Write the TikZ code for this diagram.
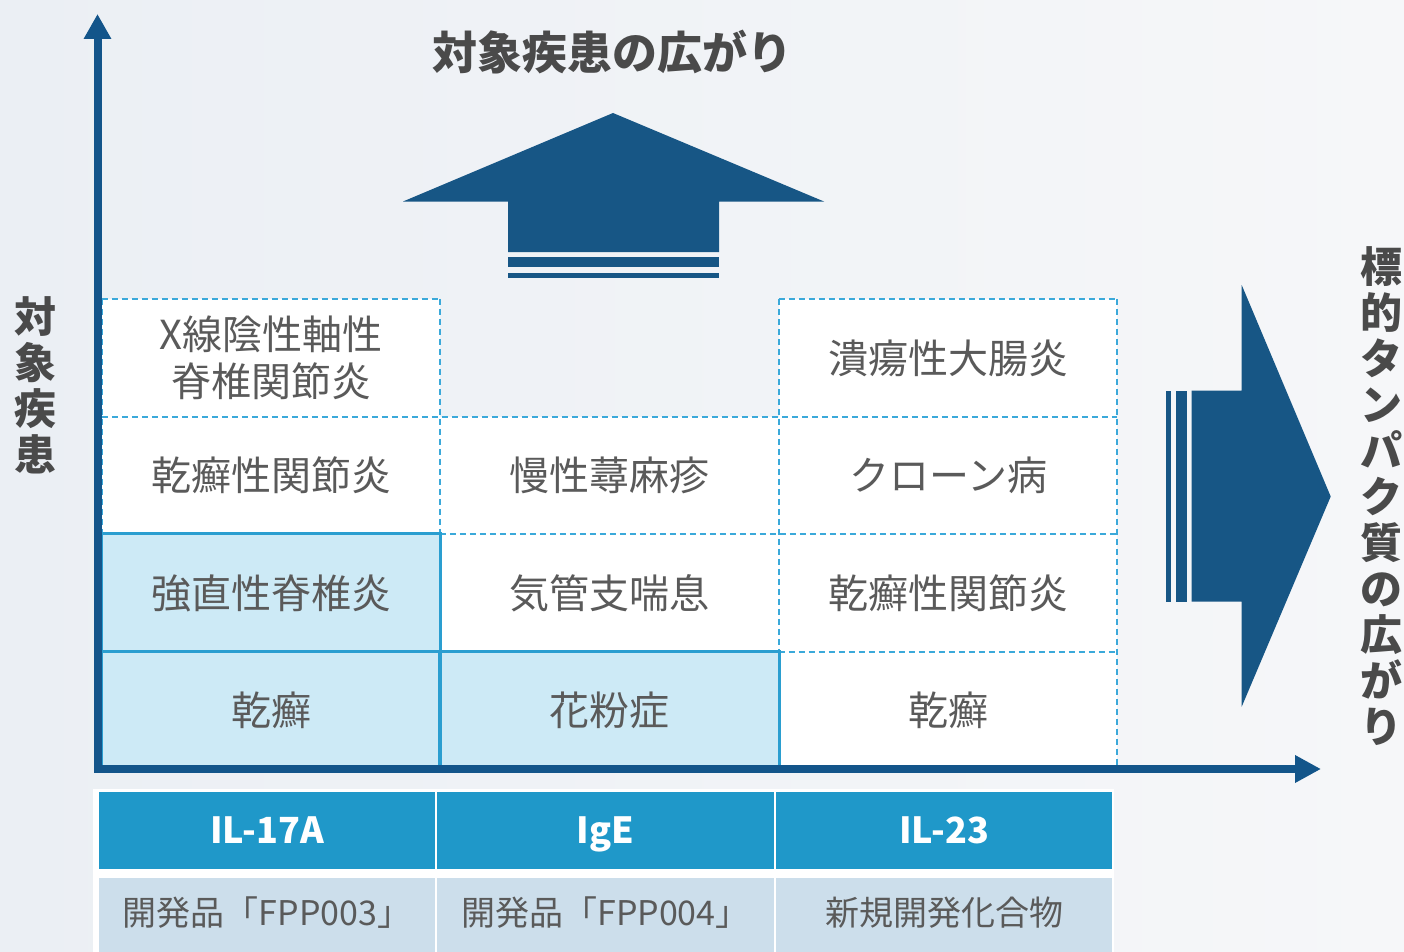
\documentclass[tikz,border=0pt]{standalone}
\usepackage{fontspec}
\setmainfont{Noto Sans CJK JP}
\usetikzlibrary{arrows.meta}
\definecolor{bgL}{HTML}{EBEFF4}
\definecolor{bgR}{HTML}{F6F7F9}
\definecolor{axisblue}{HTML}{13558A}
\definecolor{arrowblue}{HTML}{175685}
\definecolor{headblue}{HTML}{1F98C9}
\definecolor{celllight}{HTML}{CDEAF6}
\definecolor{solidline}{HTML}{2A9ED0}
\definecolor{dashline}{HTML}{3BA9DA}
\definecolor{rowfill}{HTML}{CCDEEB}
\definecolor{txtgray}{HTML}{5A5A5A}
\definecolor{titlegray}{HTML}{4A4A4A}
\begin{document}
\begin{tikzpicture}[x=1pt,y=-1pt,
  cellbox/.style={rectangle, inner sep=0pt, draw=none, text=txtgray,
     font=\fontsize{40}{47}\selectfont, align=center},
  gridline/.style={draw=dashline, line width=1.5pt, dash pattern=on 6pt off 4pt},
  solidbox/.style={draw=solidline, line width=3pt},
  axisline/.style={draw=axisblue, line width=8pt, line join=miter},
  headcell/.style={rectangle, inner sep=0pt, fill=headblue, text=white,
     minimum height=77pt, text height=30pt, text depth=5pt,
     font=\fontsize{36}{40}\selectfont\bfseries},
  subcell/.style={rectangle, inner sep=0pt, fill=rowfill, text=txtgray,
     minimum height=74pt, text height=27pt, text depth=7pt,
     font=\fontsize{34}{40}\selectfont},
  vlabel/.style={inner sep=0pt, align=center, text=titlegray,
     font=\fontsize{42}{46}\selectfont\bfseries},
  bigarrow/.style={fill=arrowblue, draw=none}
]
\useasboundingbox (0,0) rectangle (1404,952);
\shade[left color=bgL, right color=bgR] (0,0) rectangle (1404,952);

% ---- grid cells ----
\node[cellbox, fill=white, minimum width=338pt, minimum height=118pt] (c11) at (271,358) {X線陰性軸性\\脊椎関節炎};
\node[cellbox, fill=white, minimum width=338pt, minimum height=117pt] (c12) at (271,475.5) {乾癬性関節炎};
\node[cellbox, fill=celllight, minimum width=338pt, minimum height=118pt] (c13) at (271,593) {強直性脊椎炎};
\node[cellbox, fill=celllight, minimum width=338pt, minimum height=116pt] (c14) at (271,710) {乾癬};

\node[cellbox, fill=white, minimum width=339pt, minimum height=117pt] (c22) at (609.5,475.5) {慢性蕁麻疹};
\node[cellbox, fill=white, minimum width=339pt, minimum height=118pt] (c23) at (609.5,593) {気管支喘息};
\node[cellbox, fill=celllight, minimum width=339pt, minimum height=116pt] (c24) at (609.5,710) {花粉症};

\node[cellbox, fill=white, minimum width=338pt, minimum height=118pt] (c31) at (948,358) {潰瘍性大腸炎};
\node[cellbox, fill=white, minimum width=338pt, minimum height=117pt] (c32) at (948,475.5) {クローン病};
\node[cellbox, fill=white, minimum width=338pt, minimum height=118pt] (c33) at (948,593) {乾癬性関節炎};
\node[cellbox, fill=white, minimum width=338pt, minimum height=116pt] (c34) at (948,710) {乾癬};

% ---- dashed grid lines ----
\draw[gridline] (c11.north west) -- (c11.north east);
\draw[gridline] (c31.north west) -- (c31.north east);
\draw[gridline] (c12.north west) -- (c32.north east);
\draw[gridline] (c23.north west) -- (c33.north east);
\draw[gridline] (c34.north west) -- (c34.north east);
\draw[gridline] (c11.north west) -- (c12.south west);
\draw[gridline] (c11.north east) -- (c12.south east);
\draw[gridline] (c31.north west) -- (c33.south west);
\draw[gridline] (c31.north east) -- (c34.south east);

% ---- solid boxes ----
\draw[solidbox] (c13.north west) rectangle (c14.south east);
\draw[solidbox] (c14.north west) -- (c14.north east);
\draw[solidbox] (c24.north west) rectangle (c24.south east);

% ---- axes ----
\coordinate (ytip) at (97.5,14);
\coordinate (corner) at (97.5,769);
\coordinate (xtip) at (1321,769);
\draw[axisline, {Triangle[width=26pt,length=25pt]}-{Triangle[width=26pt,length=26pt]}] (ytip) -- (corner) -- (xtip);

% ---- big arrows ----
\fill[bigarrow] (613,113) -- (824,201.5) -- (719,201.5) -- (719,252) -- (508,252) -- (508,201.5) -- (403,201.5) -- cycle;
\fill[bigarrow] (508,257) rectangle (719,267.3);
\fill[bigarrow] (508,272.7) rectangle (719,278);

\fill[bigarrow] (1330.7,496.5) -- (1241.7,706.7) -- (1241.7,601.7) -- (1191.7,601.7) -- (1191.7,390.7) -- (1241.7,390.7) -- (1241.7,285) -- cycle;
\fill[bigarrow] (1166,390.7) rectangle (1171.3,601.7);
\fill[bigarrow] (1176,390.7) rectangle (1186.7,601.7);

% ---- titles ----
\node[inner sep=0pt, text=titlegray, font=\fontsize{45}{50}\selectfont\bfseries] (ttop) at (612,52) {対象疾患の広がり};
\node[vlabel] (tleft) at (35,385) {対\\象\\疾\\患};
\node[vlabel] (tright) at (1381,496) {標\\的\\タ\\ン\\パ\\ク\\質\\の\\広\\が\\り};

% ---- bottom table ----
\fill[white] (93,789) rectangle (1114,952);
\node[headcell, minimum width=336pt] (h1) at (267,830.5) {IL-17A};
\node[headcell, minimum width=337pt] (h2) at (605.5,830.5) {IgE};
\node[headcell, minimum width=336pt] (h3) at (944,830.5) {IL-23};
\node[subcell, minimum width=336pt] (s1) at (267,915) {開発品「FPP003」};
\node[subcell, minimum width=337pt] (s2) at (605.5,915) {開発品「FPP004」};
\node[subcell, minimum width=336pt] (s3) at (944,915) {新規開発化合物};
\end{tikzpicture}
\end{document}
